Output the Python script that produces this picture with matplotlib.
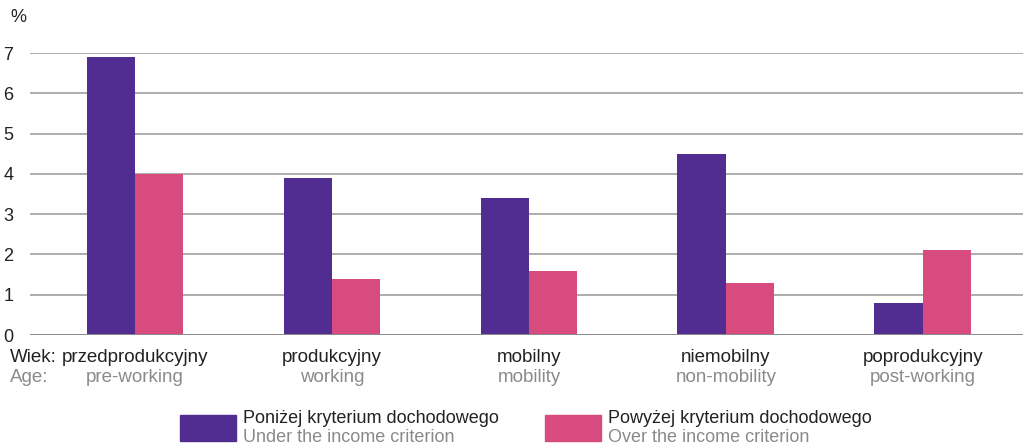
import numpy as np
import matplotlib.pyplot as plt

plt.rcParams['font.family'] = ['Liberation Sans', 'DejaVu Sans']

# Age groups (Polish / English) and shares in %
groups_pl = ['przedprodukcyjny', 'produkcyjny', 'mobilny', 'niemobilny', 'poprodukcyjny']
groups_en = ['pre-working', 'working', 'mobility', 'non-mobility', 'post-working']
below = [6.9, 3.9, 3.4, 4.5, 0.8]
above = [4.0, 1.4, 1.6, 1.3, 2.1]
yticks = [0, 1, 2, 3, 4, 5, 6, 7]

purple = '#522D91'
pink = '#D84B7E'
dark = '#222222'
grey = '#8A8A8A'

fig = plt.figure(figsize=(10.23, 4.44), dpi=100)
ax = fig.add_axes([30 / 1023, 1 - 335 / 444, 993 / 1023, (335 - 53) / 444])

x = np.arange(len(groups_pl))
w = 0.246
ax.bar(x - w / 2, below, width=w, color=purple, zorder=3)
ax.bar(x + w / 2, above, width=w, color=pink, zorder=3)

ax.set_xlim(-0.533, 4.508)
ax.set_ylim(0, 7)
ax.set_yticks(yticks)
ax.set_yticklabels([str(t) for t in yticks], fontsize=13, color=dark)
ax.tick_params(axis='y', length=0, pad=12)
ax.set_xticks([])
ax.grid(axis='y', color='#A0A0A0', linewidth=1.2, zorder=0)
for s in ax.spines.values():
    s.set_visible(False)
ax.axhline(0, color='#8C8C8C', linewidth=1.4, zorder=4)

fig.text(10 / 1023, 1 - 18 / 444, '%', fontsize=13, color=dark, va='center')

# category labels under the bars
for i in range(len(groups_pl)):
    ax.text(x[i], -0.55, groups_pl[i], ha='center', va='center',
            fontsize=13.5, color=dark)
    ax.text(x[i], -1.05, groups_en[i], ha='center', va='center',
            fontsize=13.5, color=grey)
fig.text(10 / 1023, 1 - 357 / 444, 'Wiek:', fontsize=13.5, color=dark, va='center')
fig.text(10 / 1023, 1 - 377 / 444, 'Age:', fontsize=13.5, color=grey, va='center')

# legend drawn by hand: colour block with two-line label
legend = [(purple, 'Poniżej kryterium dochodowego', 'Under the income criterion', 180),
          (pink, 'Powyżej kryterium dochodowego', 'Over the income criterion', 545)]
for col, pl, en, px in legend:
    fig.patches.append(plt.Rectangle((px / 1023, 1 - 441 / 444), 56 / 1023, 26 / 444,
                                     transform=fig.transFigure, color=col))
    fig.text((px + 63) / 1023, 1 - 418 / 444, pl, fontsize=13, color=dark, va='center')
    fig.text((px + 63) / 1023, 1 - 437 / 444, en, fontsize=13, color=grey, va='center')

fig.savefig('out.png', dpi=100)
